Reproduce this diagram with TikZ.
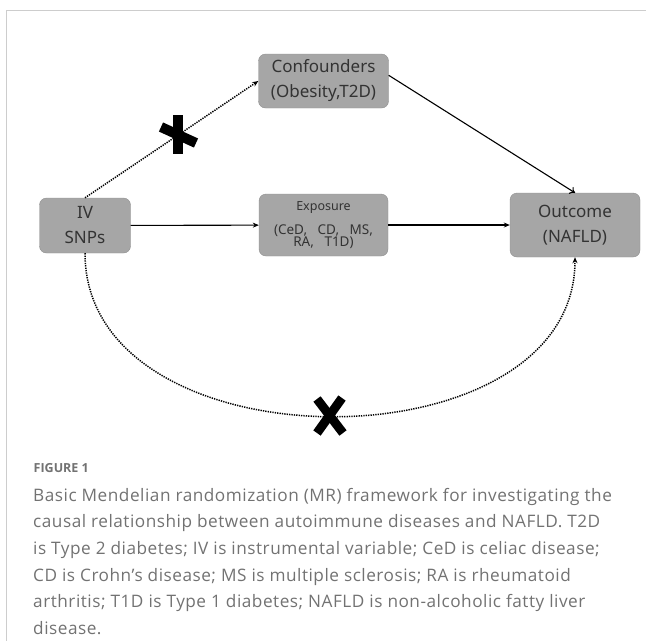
\documentclass[tikz,border=0pt]{standalone}
\usepackage{fontspec}
\setmainfont{Open Sans}
\newfontfamily\boxfont{Noto Sans}
\newfontfamily\captionfont[LetterSpace=3]{Open Sans}
\usetikzlibrary{positioning,arrows.meta}

\definecolor{boxgray}{HTML}{A6A6A6}
\definecolor{boxedge}{HTML}{8F8F8F}
\definecolor{captiongray}{HTML}{727272}
\definecolor{framegray}{HTML}{CDCDCD}

\begin{document}
\begin{tikzpicture}[x=1pt, y=-1pt, >={Stealth[length=6pt, width=5pt]},
  box/.style={draw=boxedge, fill=boxgray, rounded corners=7pt, align=center,
    inner sep=0pt, text=black!80, font=\boxfont\fontsize{17}{25}\selectfont},
  dotline/.style={line width=1.5pt, dash pattern=on 1.3pt off 1.1pt},
  solidline/.style={line width=1.1pt},
  nomark/.style={line width=10pt, black}]
  \useasboundingbox (0,0) rectangle (646,641);

  % Frame of the figure panel
  \draw[framegray, line width=0.8pt] (646,10.5) -- (6.5,10.5) -- (6.5,641);

  % Boxes
  \node[box, minimum width=91pt, minimum height=55pt] (iv) at (85,225.5) {IV\\SNPs};
  \node[box, minimum width=130pt, minimum height=54pt] (conf) at (323.5,81) {Confounders\\(Obesity,T2D)};
  \node[box, minimum width=129pt, minimum height=62pt, font=\boxfont\fontsize{13.5}{12}\selectfont] (expo) at (323.5,225)
    {{\fontsize{12.5}{12}\selectfont Exposure}\\[11pt](CeD,\ \ \ CD,\ \ \ MS,\\RA,\ \ \ T1D)};
  \node[box, minimum width=130pt, minimum height=64pt] (out) at (575,225) {Outcome\\(NAFLD)};

  % Causal paths
  \draw[solidline, ->] (iv) -- (expo);
  \draw[solidline, ->] (expo) -- (out);
  \draw[solidline, -{To[length=5pt, width=8pt]}] (conf.5) -- (out.north);

  % Violated assumptions
  \draw[dotline, ->] (iv.north) -- (conf.west);
  \draw[dotline, ->] (iv.south) .. controls (85,470) and (575,470) .. (out.south);

  % Crosses on the blocked paths
  \coordinate (crossA) at (178,135);
  \draw[nomark] ([yshift=20pt]crossA) -- ([yshift=-19pt]crossA);
  \draw[nomark] ([xshift=-17pt, yshift=8pt]crossA) -- ([xshift=18pt, yshift=-8pt]crossA);
  \coordinate (crossB) at (330,416);
  \draw[nomark, line width=9pt] ([xshift=-13pt, yshift=17pt]crossB) -- ([xshift=13pt, yshift=-17pt]crossB);
  \draw[nomark, line width=9pt] ([xshift=12pt, yshift=18pt]crossB) -- ([xshift=-13pt, yshift=-17pt]crossB);

  % Caption
  \node[anchor=base west, inner sep=0pt, text=captiongray, font=\bfseries\fontsize{12.5}{14}\selectfont] (figlabel) at (33.5,472) {FIGURE 1};
  \node[anchor=north west, inner sep=0pt, align=left, text=captiongray, font=\captionfont\fontsize{17.2}{26.6}\selectfont] (caption) at (33,488)
    {Basic Mendelian randomization (MR) framework for investigating the\\
     causal relationship between autoimmune diseases and NAFLD. T2D\\
     is Type 2 diabetes; IV is instrumental variable; CeD is celiac disease;\\
     CD is Crohn’s disease; MS is multiple sclerosis; RA is rheumatoid\\
     arthritis; T1D is Type 1 diabetes; NAFLD is non-alcoholic fatty liver\\
     disease.};
\end{tikzpicture}
\end{document}
